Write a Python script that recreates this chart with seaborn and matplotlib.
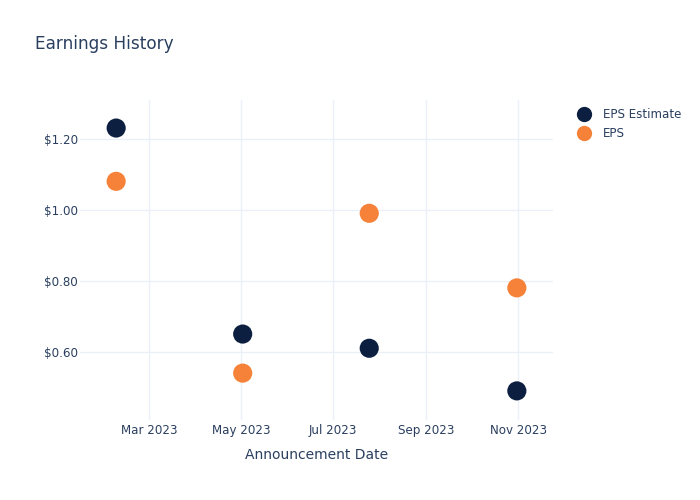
import matplotlib
matplotlib.use("Agg")
import matplotlib.pyplot as plt
import matplotlib.dates as mdates
import seaborn as sns
import pandas as pd
import numpy as np
from matplotlib.lines import Line2D

dates = ["2023-02-07", "2023-05-02", "2023-07-25", "2023-10-31"]
eps_estimate = [1.23, 0.65, 0.61, 0.49]
eps_actual = [1.08, 0.54, 0.99, 0.78]
series_names = ["EPS Estimate", "EPS"]
colors = ["#0c1f40", "#f58238"]

df = pd.DataFrame({
    "date": pd.to_datetime(dates * 2),
    "value": eps_estimate + eps_actual,
    "series": [series_names[0]] * len(dates) + [series_names[1]] * len(dates),
})

sns.set_style("white")
plt.rcParams["font.family"] = ["DejaVu Sans"]
text_color = "#2a3f5f"
grid_color = "#ebf0f8"

fig = plt.figure(figsize=(7, 5), dpi=100)
ax = fig.add_axes([80 / 700, 1 - 420 / 500, (553 - 80) / 700, (420 - 100) / 500])

sns.scatterplot(data=df, x="date", y="value", hue="series", hue_order=series_names,
                palette=colors, s=190, linewidth=0, ax=ax, legend=False, zorder=3)

d0 = pd.Timestamp(dates[0]) - pd.Timedelta(days=24)
d1 = pd.Timestamp(dates[-1]) + pd.Timedelta(days=24)
ax.set_xlim(d0, d1)
ax.set_ylim(0.408, 1.309)

ax.xaxis.set_major_locator(mdates.MonthLocator(bymonth=[3, 5, 7, 9, 11]))
ax.xaxis.set_major_formatter(mdates.DateFormatter("%b %Y"))
ax.set_yticks([0.6, 0.8, 1.0, 1.2])
ax.set_yticklabels(["$0.60", "$0.80", "$1.00", "$1.20"])

ax.grid(True, color=grid_color, linewidth=1)
ax.set_axisbelow(True)
for sp in ax.spines.values():
    sp.set_visible(False)
ax.tick_params(axis="both", length=0, labelsize=8.6, labelcolor=text_color)
ax.tick_params(axis="x", pad=3)
ax.tick_params(axis="y", pad=1.5)

ax.set_xlabel("Announcement Date", fontsize=10, color=text_color, labelpad=8)
ax.set_ylabel("")

fig.text(35 / 700, 1 - 44 / 500, "Earnings History", fontsize=12.2, color=text_color,
         va="center", ha="left")

handles = [Line2D([0], [0], marker="o", linestyle="", markersize=11, color=c,
                  markeredgewidth=0) for c in colors]
fig.legend(handles, series_names, loc="upper left", bbox_to_anchor=(572 / 700, 1 - 103 / 500),
           frameon=False, fontsize=8.6, labelcolor=text_color, handletextpad=1.0,
           labelspacing=0.5, borderaxespad=0, handlelength=1.2)

fig.savefig("out.png", dpi=100)
